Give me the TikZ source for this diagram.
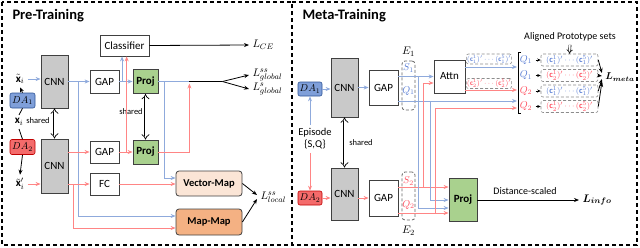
\documentclass[tikz,border=0pt]{standalone}
\usepackage{fontspec}
\setmainfont{Carlito}
\usepackage{amsmath}
\usetikzlibrary{positioning,arrows.meta,calc}
\definecolor{LineBlue}{HTML}{8FAADC}
\definecolor{LineRed}{HTML}{FF8585}
\definecolor{TextBlue}{HTML}{5A7ED4}
\definecolor{TextRed}{HTML}{FF4F5F}
\definecolor{DABlue}{HTML}{7F9FD9}
\definecolor{DABlueLine}{HTML}{2F5597}
\definecolor{DARed}{HTML}{F46B6B}
\definecolor{DARedLine}{HTML}{C00000}
\definecolor{CNNGray}{HTML}{C9C9C9}
\definecolor{ProjGreen}{HTML}{A9D18E}
\definecolor{VecPeach}{HTML}{FBE5D6}
\definecolor{MapOrange}{HTML}{F4B183}
\definecolor{Edge}{HTML}{404040}

\begin{document}
\begin{tikzpicture}[
  x=1pt, y=-1pt,
  every node/.style={align=center, font=\fontsize{11}{12}\selectfont},
  titletext/.style={anchor=west, font=\fontsize{14.5}{16}\selectfont\bfseries},
  smalltext/.style={font=\fontsize{8.5}{9}\selectfont},
  plainbox/.style={draw=Edge, line width=0.8pt, fill=white, inner sep=0pt},
  cnnbox/.style={plainbox, fill=CNNGray, minimum width=27pt},
  projbox/.style={plainbox, fill=ProjGreen, font=\fontsize{11}{12}\selectfont\bfseries},
  dabox/.style={rounded corners=2pt, line width=0.6pt, inner sep=0pt, minimum height=15pt, font=\fontsize{10}{11}\selectfont},
  mapbox/.style={plainbox, rounded corners=3pt, minimum width=66pt, font=\fontsize{10.5}{12}\selectfont\bfseries},
  groupbox/.style={draw=black!60, densely dashed, rounded corners=3pt, line width=0.8pt, minimum width=13pt, inner sep=0pt},
  protobox/.style={draw=black!45, densely dashed, rounded corners=2pt, line width=0.6pt, fill=white, inner sep=0.5pt},
  panel/.style={line width=1.2pt, dash pattern=on 4pt off 3pt},
  arr/.style={-{Stealth[length=5pt,width=4pt]}, line width=0.8pt},
  barr/.style={arr, LineBlue},
  rarr/.style={arr, LineRed},
  sharedarr/.style={{Implies}-{Implies}, double, double distance=2pt, line width=0.7pt}
]
\useasboundingbox (0,0) rectangle (640,247);

% Panels
\draw[panel] (2,2) rectangle (292,245);
\draw[panel] (292,2) -- (637,2) -- (637,245) -- (292,245);

% ---------------- Pre-Training ----------------
\node[titletext] (pretitle) at (9,16) {Pre-Training};

\node[cnnbox, minimum height=53pt] (cnnA) at (54.5,81.5) {CNN};
\node[cnnbox, minimum height=54pt] (cnnB) at (54.5,166) {CNN};
\node[dabox, draw=DABlueLine, fill=DABlue, minimum width=25pt] (daA) at (22.5,100.5) {$DA_1$};
\node[dabox, draw=DARedLine, fill=DARed, minimum width=25pt] (daB) at (22.5,147) {$DA_2$};
\node (xtA) at (20,79) {$\tilde{\mathbf{x}}_i$};
\node (xin) at (19,122) {$\mathbf{x}_i$};
\node (xtB) at (20,184) {$\tilde{\mathbf{x}}'_i$};
\node[smalltext] (shA) at (38,121) {shared};

\node[plainbox, minimum width=49pt, minimum height=21pt] (cls) at (124.5,45.5) {Classifier};
\node[plainbox, minimum width=29pt, minimum height=23pt] (gapA) at (104.5,81.5) {GAP};
\node[projbox, minimum width=25pt, minimum height=24pt] (projA) at (145.5,81.5) {Proj};
\node[plainbox, minimum width=29pt, minimum height=22pt] (gapB) at (104.5,152) {GAP};
\node[projbox, minimum width=25pt, minimum height=24pt] (projB) at (145.5,152) {Proj};
\node[plainbox, minimum width=29pt, minimum height=22pt] (fc) at (104.5,184) {FC};
\node[smalltext] (shB) at (131,112) {shared};
\node[mapbox, fill=VecPeach, minimum height=25pt] (vmap) at (209,183.5) {Vector-Map};
\node[mapbox, fill=MapOrange, minimum height=26pt] (mmap) at (209,222) {Map-Map};

\node[anchor=west] (lce) at (249,45) {$L_{CE}$};
\node[anchor=west] (lssg) at (249,75) {$L^{ss}_{global}$};
\node[anchor=west] (lsg) at (249,89) {$L^{s}_{global}$};
\node[anchor=west] (lssl) at (257,197) {$L^{ss}_{local}$};

% inputs
\draw[arr] (daA.north) -- (xtA.south);
\draw[line width=0.8pt] (xin.north) -- (daA.south);
\draw[line width=0.8pt] (xin.south) -- (daB.north);
\draw[arr] (daB.south) -- (xtB.north);
\draw[barr] (xtA.east) -- (xtA.east -| cnnA.west);
\draw[rarr] (xtB.east) -- (xtB.east -| cnnB.west);
\draw[sharedarr] (cnnA.south) -- (cnnB.north);
\draw[sharedarr] (projA.south) -- (projB.north);

% blue branch
\draw[barr] (cnnA.east) -- (gapA.west);
\draw[barr] ($(cnnA.east)+(10,0)$) |- ($(mmap.west)+(0,-6)$);
\draw[barr] (gapA.east) -- (projA.west);
\coordinate (jblue) at ($(gapA.east)!0.2!(projA.west)$);
\draw[barr] (jblue) -- (jblue |- cls.south);
\coordinate (jmerge) at ($(projA.east)+(31,0)$);
\draw[LineBlue, line width=0.8pt] (projA.east) -- (jmerge);
\draw[barr] ($(projA.east)+(6,0)$) |- ($(vmap.west)+(0,-5.5)$);

% red branch
\draw[rarr] (cnnB.east |- gapB) -- (gapB.west);
\draw[rarr] (cnnB.east |- fc) -- (fc.west);
\draw[rarr] ($(cnnB.east |- fc)+(5,0)$) |- ($(mmap.west)+(0,6)$);
\draw[rarr] (gapB.east) -- (projB.west);
\coordinate (jred) at ($(gapB.east)!0.55!(projB.west)$);
\draw[rarr] (jred) -- (jred |- cls.south);
\draw[rarr] (projB.east) -| ($(jmerge)+(0,2)$);
\draw[rarr] (fc.east) -- (fc.east -| vmap.west);

% losses
\coordinate (jsplit) at ($(jmerge)+(33,0)$);
\draw[line width=0.8pt] (jmerge) -- (jsplit);
\draw[arr] (jsplit) -- (lssg.west);
\draw[arr] (jsplit) -- (lsg.west);
\draw[arr] (cls.east) -- (lce.west);
\draw[arr] (vmap.east) -- ($(lssl.west)+(0,-2)$);
\draw[arr] (mmap.east) -- ($(lssl.west)+(0,2)$);

% ---------------- Meta-Training ----------------
\node[titletext] (metatitle) at (299,16) {Meta-Training};

\node[dabox, draw=DABlueLine, fill=DABlue, minimum width=24pt, minimum height=14pt] (daC) at (310,89) {$DA_1$};
\node[dabox, draw=DARedLine, fill=DARed, minimum width=24pt, minimum height=14pt] (daD) at (310,198) {$DA_2$};
\node[font=\fontsize{10.5}{12}\selectfont] (episode) at (315,139) {Episode\\\{S,Q\}};
\draw[barr] (episode.north -| daC) -- (daC.south);
\draw[rarr] (episode.south -| daD) -- (daD.north);

\node[cnnbox, minimum height=59pt] (cnnC) at (344.5,87.5) {CNN};
\node[cnnbox, minimum height=52pt] (cnnD) at (344.5,194) {CNN};
\node[smalltext] (shC) at (361,143) {shared};
\draw[sharedarr] (cnnC.south) -- (cnnD.north);
\draw[barr] (daC.east) -- (daC.east -| cnnC.west);
\draw[rarr] (daD.east) -- (daD.east -| cnnD.west);

\node[plainbox, minimum width=29pt, minimum height=35pt] (gapC) at (383.5,87.5) {GAP};
\node[plainbox, minimum width=29pt, minimum height=36pt] (gapD) at (383.5,198) {GAP};
\draw[barr] (cnnC.east |- gapC) -- (gapC.west);
\draw[rarr] (cnnD.east |- gapD) -- (gapD.west);

\node[groupbox, minimum height=49pt] (eA) at (408.5,85.5) {};
\node[groupbox, minimum height=48pt] (eB) at (408.5,196) {};
\node (eAlab) at (408.5,52) {$E_1$};
\node (eBlab) at (408.5,231) {$E_2$};
\node[text=TextBlue, font=\fontsize{10}{11}\selectfont] (sA) at (408.5,68) {$S_1$};
\node[text=TextBlue, font=\fontsize{10}{11}\selectfont] (qA) at (408.5,91) {$Q_1$};
\node[text=TextRed, font=\fontsize{10}{11}\selectfont] (sB) at (408.5,181) {$S_2$};
\node[text=TextRed, font=\fontsize{10}{11}\selectfont] (qB) at (408.5,205) {$Q_2$};

\node[plainbox, minimum width=31pt, minimum height=33pt] (attn) at (449.5,76.5) {Attn};
\node[projbox, minimum width=28pt, minimum height=43pt] (proj) at (463,199.5) {Proj};

\node[protobox, minimum width=44pt, minimum height=10pt, text=TextBlue, font=\fontsize{7}{8}\selectfont] (protoA) at (489,59) {$(\mathbf{c}_1^1)'\cdots(\mathbf{c}_1^5)'$};
\node[protobox, minimum width=44pt, minimum height=10pt, text=TextRed, font=\fontsize{7}{8}\selectfont] (protoB) at (489,83.5) {$(\mathbf{c}_2^1)'\cdots(\mathbf{c}_2^5)'$};

% entry points
\coordinate (inSA) at (517,67);
\coordinate (inSB) at (517,90);
\coordinate (inQA) at (517,101);
\coordinate (inQB) at (517,108);
\coordinate (inPS) at ($(proj.west)+(0,-12.5)$);
\coordinate (inPa) at ($(proj.west)+(0,0.5)$);
\coordinate (inPb) at ($(proj.west)+(0,8.5)$);
\coordinate (inPQ) at ($(proj.west)+(0,13.5)$);

\draw[barr] (gapC.east |- attn) -- (attn.west);
\draw[barr] (gapC.east |- inQA) -- (inQA);
\draw[barr] (attn.east |- inSA) -- (inSA);
\draw[rarr] (attn.east |- inSB) -- (inSB);
\draw[rarr] (gapD.east |- inPS) -- (inPS);
\draw[rarr] (gapD.east |- inPQ) -- (inPQ);
\draw[barr] ($(gapC.east |- attn)+(20,0)$) |- (inPb);
\draw[barr] ($(gapC.east |- inQA)+(32,0)$) |- (inPa);
\draw[rarr] ($(gapD.east |- inPS)+(25,0)$) |- ($(attn.west)+(0,6.5)$);
\draw[rarr] ($(gapD.east |- inPQ)+(37,0)$) |- (inQB);

% aligned prototype sets
\draw[line width=0.7pt] (521,52) -- (518,52) -- (518,113) -- (521,113);
\node[font=\fontsize{10}{11}\selectfont] (aligned) at (570,37) {Aligned Prototype sets};
\node[font=\fontsize{10}{11}\selectfont] (lmeta) at (620,77) {$\boldsymbol{L_{meta}}$};
\foreach \n/\y/\q/\qc/\k/\pc/\dy in {1/60/1/TextBlue/1/TextBlue/-4, 2/75.5/1/TextBlue/2/TextRed/-1, 3/91/2/TextRed/1/TextBlue/2, 4/106.5/2/TextRed/2/TextRed/5}{
  \node[text=\qc, font=\fontsize{10}{11}\selectfont] (q\n) at (526,\y) {$Q_\q$};
  \node[protobox, minimum width=57pt, minimum height=12pt, text=\pc, font=\fontsize{8.5}{9}\selectfont] (row\n) at (569.5,\y) {$(\mathbf{c}_\k^1)'\cdots(\mathbf{c}_\k^5)'$};
  \draw[-{Stealth[length=3.5pt,width=3pt]}, line width=0.8pt] (q\n.east) -- (row\n.west);
  \draw[arr] (row\n.east) -- ($(lmeta.west)+(0,\dy)$);
}
\draw[-{Implies}, double, double distance=1.5pt, line width=0.6pt] (aligned.south) -- (row1.north);

% info loss
\node[anchor=west] (linfo) at (579,200) {$\boldsymbol{L_{info}}$};
\node[font=\fontsize{10}{11}\selectfont] (dist) at (525,191) {Distance-scaled};
\draw[arr] (proj.east |- linfo) -- (linfo.west);
\end{tikzpicture}
\end{document}
